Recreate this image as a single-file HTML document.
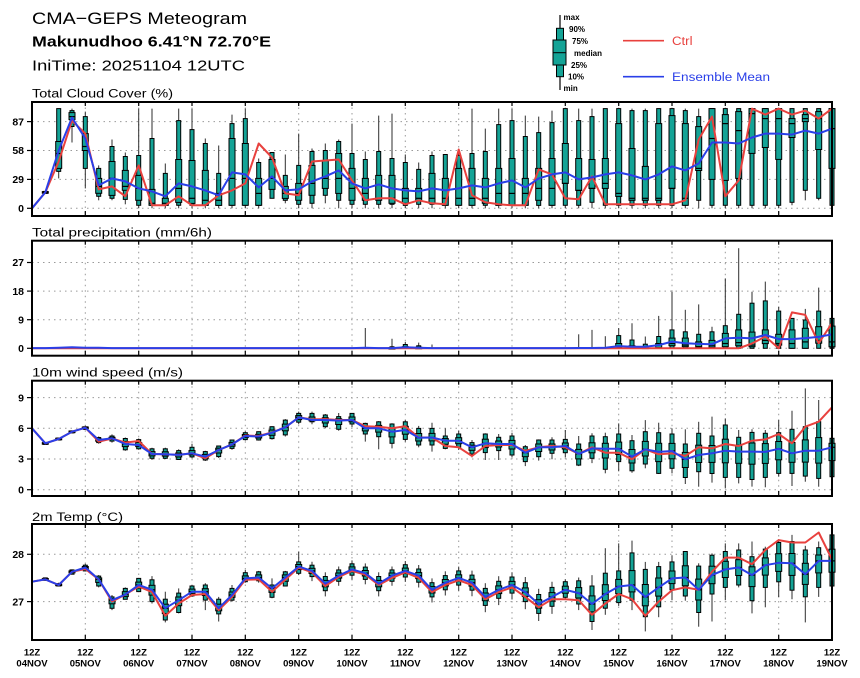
<!DOCTYPE html>
<html><head><meta charset="utf-8">
<style>
html,body{margin:0;padding:0;background:#fff;}
svg{display:block;font-family:"Liberation Sans",Arial,sans-serif;}
</style></head><body>
<svg id="s" width="860" height="678" viewBox="0 0 860 678" xmlns="http://www.w3.org/2000/svg">
<rect width="860" height="678" fill="#fff"/>
<!-- Titles -->
<text x="32" y="24" font-size="17" textLength="215" lengthAdjust="spacingAndGlyphs">CMA−GEPS Meteogram</text>
<text x="32" y="46.7" font-size="15" font-weight="bold" textLength="239" lengthAdjust="spacingAndGlyphs">Makunudhoo 6.41°N 72.70°E</text>
<text x="32" y="70.7" font-size="15" textLength="213" lengthAdjust="spacingAndGlyphs">IniTime: 20251104 12UTC</text>

<!-- Legend box icon -->
<line x1="560" y1="15" x2="560" y2="90" stroke="#000" stroke-width="1.2"/>
<rect x="556.5" y="28.3" width="7" height="48.4" fill="#14a396" stroke="#000" stroke-width="1"/>
<rect x="553" y="40" width="13" height="25" fill="#14a396" stroke="#000" stroke-width="1"/>
<line x1="553" y1="52.7" x2="566" y2="52.7" stroke="#000" stroke-width="1"/>
<g font-size="8" font-weight="bold">
<text x="563.5" y="20">max</text>
<text x="569" y="32">90%</text>
<text x="572" y="44">75%</text>
<text x="574" y="56">median</text>
<text x="571" y="68">25%</text>
<text x="568" y="79.5">10%</text>
<text x="563.5" y="91">min</text>
</g>
<line x1="623" y1="40.7" x2="664" y2="40.7" stroke="#e8413e" stroke-width="1.6"/>
<text x="672" y="45" font-size="11.5" fill="#e8413e" textLength="20.5" lengthAdjust="spacingAndGlyphs">Ctrl</text>
<line x1="623" y1="76.7" x2="664" y2="76.7" stroke="#2a3fe8" stroke-width="1.6"/>
<text x="672" y="81" font-size="11.5" fill="#2a3fe8" textLength="98" lengthAdjust="spacingAndGlyphs">Ensemble Mean</text>

<!-- Panel titles -->
<text x="32" y="97.5" font-size="11.5" textLength="141" lengthAdjust="spacingAndGlyphs">Total Cloud Cover (%)</text>
<text x="32" y="236.5" font-size="11.5" textLength="180" lengthAdjust="spacingAndGlyphs">Total precipitation (mm/6h)</text>
<text x="32" y="376.6" font-size="11.5" textLength="151" lengthAdjust="spacingAndGlyphs">10m wind speed (m/s)</text>
<text x="32" y="520.8" font-size="11.5" textLength="91" lengthAdjust="spacingAndGlyphs">2m Temp (°C)</text>

<!-- Y tick labels -->
<g font-size="10.5" font-weight="bold" text-anchor="end">
<text x="24" y="125.3">87</text>
<text x="24" y="154.2">58</text>
<text x="24" y="183.1">29</text>
<text x="24" y="212">0</text>
<text x="24" y="266.2">27</text>
<text x="24" y="294.8">18</text>
<text x="24" y="323.4">9</text>
<text x="24" y="352">0</text>
<text x="24" y="401.3">9</text>
<text x="24" y="432">6</text>
<text x="24" y="462.7">3</text>
<text x="24" y="493.4">0</text>
<text x="24" y="558">28</text>
<text x="24" y="605.3">27</text>
</g>

<!-- X labels -->
<g font-size="9.5" font-weight="bold" text-anchor="middle">
<text x="32" y="655.5">12Z</text><text x="32" y="666.5">04NOV</text>
<text x="85.3" y="655.5">12Z</text><text x="85.3" y="666.5">05NOV</text>
<text x="138.7" y="655.5">12Z</text><text x="138.7" y="666.5">06NOV</text>
<text x="192" y="655.5">12Z</text><text x="192" y="666.5">07NOV</text>
<text x="245.3" y="655.5">12Z</text><text x="245.3" y="666.5">08NOV</text>
<text x="298.7" y="655.5">12Z</text><text x="298.7" y="666.5">09NOV</text>
<text x="352" y="655.5">12Z</text><text x="352" y="666.5">10NOV</text>
<text x="405.3" y="655.5">12Z</text><text x="405.3" y="666.5">11NOV</text>
<text x="458.7" y="655.5">12Z</text><text x="458.7" y="666.5">12NOV</text>
<text x="512" y="655.5">12Z</text><text x="512" y="666.5">13NOV</text>
<text x="565.3" y="655.5">12Z</text><text x="565.3" y="666.5">14NOV</text>
<text x="618.7" y="655.5">12Z</text><text x="618.7" y="666.5">15NOV</text>
<text x="672" y="655.5">12Z</text><text x="672" y="666.5">16NOV</text>
<text x="725.3" y="655.5">12Z</text><text x="725.3" y="666.5">17NOV</text>
<text x="778.7" y="655.5">12Z</text><text x="778.7" y="666.5">18NOV</text>
<text x="832" y="655.5">12Z</text><text x="832" y="666.5">19NOV</text>
</g>

<g id="grid"></g>
<g id="data"></g>
<g id="frames" fill="none" stroke="#000" stroke-width="2">
<rect x="32" y="102" width="800" height="114"/>
<rect x="32" y="240.7" width="800" height="115"/>
<rect x="32" y="380.7" width="800" height="115.3"/>
<rect x="32" y="524" width="800" height="116"/>
</g>
</svg>
<script>
(function(){
const T=40/3, X=i=>32+i*T;
const yC=v=>208.3-v*0.9966, yP=v=>348.3-v*3.178, yW=v=>489.7-v*10.233, yT=v=>554.3+(28-v)*47.3;
const f=n=>n.toFixed(1);
const TEAL="#14a396", EDGE="#000";
let g='';
const panels=[[102,216,[208.3,179.4,150.5,121.6]],[240.7,355.7,[348.3,319.7,291.1,262.5]],[380.7,496,[489.7,459,428.3,397.6]],[524,640,[601.6,554.3]]];
panels.forEach(p=>{
  p[2].forEach(y=>{g+=`<line x1="32" x2="832" y1="${y}" y2="${y}" stroke="#9a9a9a" stroke-width="1" stroke-dasharray="1.5,4"/>`;
    g+=`<line x1="27" x2="32" y1="${y}" y2="${y}" stroke="#000" stroke-width="1.2"/>`;});
  for(let k=1;k<15;k++){const x=f(32+k*160/3);
    g+=`<line x1="${x}" x2="${x}" y1="${p[0]}" y2="${p[1]}" stroke="#9a9a9a" stroke-width="1" stroke-dasharray="1.5,4"/>`;
    g+=`<line x1="${x}" x2="${x}" y1="${p[1]-5}" y2="${p[1]}" stroke="#000" stroke-width="1.2"/>`;
    g+=`<line x1="${x}" x2="${x}" y1="${p[0]}" y2="${p[0]+4}" stroke="#000" stroke-width="1.2"/>`;}
});
document.getElementById('grid').innerHTML=g;

let o='';
function path(a,yf,c){let d='';a.forEach((v,i)=>{d+=(i?'L':'M')+f(X(i))+' '+f(yf(v));});
  o+=`<path d="${d}" fill="none" stroke="${c}" stroke-width="2" stroke-linejoin="round"/>`;}
function box(i,b,yf){
  if(!b)return;
  const x=X(i);const [mn,p10,p25,md,p75,p90,mx]=b;
  if(mx>mn) o+=`<line x1="${f(x)}" x2="${f(x)}" y1="${f(yf(mx))}" y2="${f(yf(mn))}" stroke="#2e2e2e" stroke-width="1"/>`;
  if(p90>p10){
    let y1=yf(p90),y2=yf(p10); if(y2-y1<2){const c=(y1+y2)/2;y1=c-1;y2=c+1;}
    o+=`<rect x="${f(x-2)}" y="${f(y1)}" width="4" height="${f(y2-y1)}" fill="${TEAL}" stroke="${EDGE}" stroke-width="1"/>`;
    y1=yf(p75);y2=yf(p25); if(y2-y1<1.6){const c=(y1+y2)/2;y1=c-0.8;y2=c+0.8;}
    o+=`<rect x="${f(x-3)}" y="${f(y1)}" width="6" height="${f(y2-y1)}" fill="${TEAL}" stroke="${EDGE}" stroke-width="1"/>`;
    o+=`<line x1="${f(x-3)}" x2="${f(x+3)}" y1="${f(yf(md))}" y2="${f(yf(md))}" stroke="#000" stroke-width="1.2"/>`;
  }
}
function mk4(b,m){const [mn,p10,p90,mx]=b;m=Math.max(p10,Math.min(p90,m));
  return [mn,p10,m-(m-p10)*0.45,m,m+(p90-m)*0.45,p90,mx];}

const CB=[null,
[15,15,15.5,16,16.5,17,17],[30,37,40,55,67,100,100],[66,82,89,92,96,98,100],[20,40,58,62,75,92,97],
[8,12,15,22,30,40,43],[8,10,13,30,47,62,69],[4,9,18,22,38,52,56],[0,3,8,20,33,53,100],
[0,3,3,5,19,70,100],[0,3,3,5,10,35,45],[0,3,6,20,49,88,100],[0,3,5,10,48,79,100],
[0,3,3,8,38,65,70],[0,3,3,8,15,35,63],[0,3,3,30,70,85,94],[0,3,3,30,65,90,100],
[0,3,3,15,30,46,50],[10,10,19,30,49,56,56],[5,8,10,15,22,33,54],[0,4,8,15,25,43,75],
[0,5,13,25,43,57,60],[5,13,20,30,48,58,65],[0,8,15,30,55,67,69],[0,4,8,20,40,55,85],
[0,4,8,15,30,49,57],[0,4,8,10,33,57,93],[0,4,5,10,33,50,95],[0,3,5,10,20,46,54],
[0,4,8,10,20,39,46],[0,4,5,10,35,53,57],[0,3,3,10,30,54,54],[0,3,3,10,40,53,55],
[0,3,3,10,40,55,100],[0,3,5,10,30,57,80],[0,3,3,15,40,84,100],[0,3,3,15,50,88,100],
[0,3,3,15,30,72,93],[0,3,8,20,40,76,92],[0,3,3,20,50,86,98],[0,3,25,25,65,100,100],
[0,3,18,18,50,88,100],[0,6,20,20,49,92,100],[0,3,20,25,50,100,100],[0,3,12,15,85,100,100],
[0,3,8,10,60,98,100],[0,3,8,10,42,98,100],[0,3,8,10,85,100,100],[0,3,20,20,93,100,100],
[0,3,3,10,85,98,100],[0,8,38,40,82,92,100],[0,3,29,70,100,100,100],[0,3,28,85,94,100,100],
[0,3,30,78,97,100,100],[0,3,55,95,100,100,100],[0,3,61,90,100,100,100],[0,3,49,90,100,100,100],
[3,6,71,85,90,100,100],[8,18,87,90,94,100,100],[8,10,59,90,97,100,100],[0,3,40,80,100,100,100]];
const CR=[0,16,47,88,75,19,22,12,43,3,3,12,3,3,13,18,25,65,51,15,13,47,48,49,28,8,10,10,4,8,5,4,59,13,6,4,3,3,39,34,10,9,32,4,4,4,4,4,4,8,69,92,12,28,100,94,100,94,98,90,100];
const CM=[0,16,58,91,70,23,30,27,20,17,12,25,22,18,13,36,34,21,32,18,19,27,32,38,25,20,24,20,18,17,20,18,20,23,21,25,28,21,30,34,36,29,31,34,36,33,29,34,42,38,45,66,66,65,71,75,75,74,78,75,80];
for(let i=1;i<=60;i++)box(i,CB[i],yC);
path(CR,yC,"#e8413e");path(CM,yC,"#2a3fe8");

const PB={25:[0,0,0,0,0,0,6.4],27:[0,0,0,0,0,0.3,3],28:[0,0,0,0.2,0.5,1.2,2],29:[0,0,0,0,0.2,0.8,1.8],30:[0,0,0,0,0,0,1.2],
41:[0,0,0,0,0,0,4.4],42:[0,0,0,0,0,0,5.8],43:[0,0,0,0,0,0,3.8],44:[0,0,0,0.3,1.5,4.0,6.4],
45:[0,0,0,0,0.8,2.6,7.9],46:[0,0,0,0,0.3,1.3,3.7],47:[0,0,0,0.2,1.5,3.7,10.2],48:[0,0,0.8,1.5,3.2,5.8,17.8],
49:[0,0,0.5,1.0,3.2,5.2,12.1],50:[0,0,0.3,0.5,2.0,4.4,13.8],51:[0,0,0.3,0.8,2.5,5.2,6.8],52:[0,0,0.5,1.5,4.7,7.1,22.0],
53:[0,0,0.8,1.8,5.8,10.7,31.5],54:[0,0,0.5,1.0,5.1,14.2,17.8],55:[0,0,1.5,2.5,5.8,14.9,21.0],56:[0,0,1.0,1.5,4.4,11.7,13.1],
57:[0,0,0,1.5,5.8,9.4,9.5],58:[0,0,0,2.0,6.3,8.9,12.4],59:[0,0,1.6,2.5,6.8,11.7,19.1],60:[0,0,0.5,2.0,7.0,9.4,9.6]};
for(const k in PB)box(+k,PB[k],yP);
const PR=new Array(61).fill(0);
Object.assign(PR,{54:1.5,55:3.7,56:0,57:11.3,58:10.5,59:1.6,60:7.9});
const PM=new Array(61).fill(0.05);
Object.assign(PM,{2:0.2,3:0.3,4:0.2,5:0.15,25:0.2,28:0.3,29:0.2,41:0.1,42:0.1,43:0.2,44:0.7,45:0.5,46:0.5,47:1.0,48:2.1,49:1.6,50:1.4,51:1.3,52:3.1,53:3.3,54:3.1,55:4.2,56:2.9,57:2.9,58:3.2,59:3.6,60:4.4});
path(PR,yP,"#e8413e");path(PM,yP,"#2a3fe8");

const WM=[6.0,4.53,4.95,5.67,6.06,4.86,5.02,4.47,4.37,3.49,3.46,3.4,3.56,3.23,3.88,4.43,5.25,5.2,5.57,6.1,7.07,6.81,6.81,6.75,6.81,6.0,6.0,5.67,5.83,5.08,5.1,4.79,4.79,4.14,4.53,4.47,4.47,3.62,4.14,4.14,4.27,3.5,4.04,4.0,4.0,3.23,3.95,3.69,3.78,2.97,3.39,3.56,3.81,3.72,3.72,3.69,4.0,3.56,3.81,3.81,4.14];
const WR=[6.0,4.53,4.95,5.67,6.06,4.7,5.0,4.6,4.76,3.49,3.46,3.4,3.56,3.07,3.88,4.43,5.3,5.25,5.6,6.1,7.07,6.87,6.9,6.81,6.81,6.2,6.16,6.0,6.2,5.1,5.1,4.27,4.14,3.29,4.27,4.37,4.37,3.8,4.14,4.27,4.14,3.5,4.14,3.62,3.62,2.97,3.95,3.46,3.55,3.3,4.14,4.04,4.47,4.27,4.79,4.92,5.44,4.53,6.16,6.65,8.05];
const WB=[null,
[4.4,4.45,4.6,4.65],[4.8,4.85,5.05,5.1],[5.5,5.55,5.75,5.8],[5.85,5.9,6.15,6.25],[4.5,4.6,5.1,5.2],
[4.6,4.75,5.25,5.4],[3.8,3.9,5.0,5.1],[3.9,4.0,4.9,5.0],[2.9,3.07,4.0,4.1],[3.0,3.07,4.0,4.1],
[2.9,2.95,3.82,3.95],[3.1,3.2,4.14,4.5],[2.8,2.9,3.72,3.8],[3.1,3.23,4.27,4.3],[3.9,4.04,4.86,4.9],
[4.8,4.9,5.57,5.7],[4.8,4.86,5.67,5.7],[4.9,5.0,6.16,6.2],[5.2,5.35,6.8,6.9],[6.4,6.6,7.46,7.63],
[6.4,6.64,7.46,7.63],[6.0,6.16,7.3,7.4],[5.77,5.9,7.14,7.5],[6.1,6.42,7.46,7.5],[4.7,5.44,6.48,6.55],
[3.95,5.18,6.64,6.7],[4.04,4.53,6.42,6.5],[4.7,4.92,6.64,6.8],[4.14,4.37,5.99,6.23],[3.72,4.37,5.99,6.55],
[3.95,4.04,5.25,5.99],[3.88,4.14,5.44,5.77],[3.16,3.49,4.6,4.86],[2.9,3.62,5.44,5.51],[2.9,3.82,5.12,5.44],
[3.16,3.39,5.25,5.57],[2.31,2.74,4.2,4.37],[2.84,3.23,4.86,4.92],[2.97,3.56,4.86,5.12],[3.16,3.62,4.92,5.83],
[2.31,2.41,4.47,5.25],[2.6,3.07,5.25,5.51],[1.6,1.99,5.18,5.57],[1.8,2.74,5.44,6.48],[1.66,1.85,4.79,5.35],
[2.09,2.51,5.67,6.8],[1.53,1.59,5.57,6.55],[1.59,2.09,5.44,5.99],[0.56,1.2,4.47,5.9],[0.29,1.76,5.51,6.64],
[0.69,1.59,5.25,7.14],[0.13,1.2,6.32,6.97],[0.62,1.2,5.12,5.83],[0.3,1.0,5.6,5.9],[0.23,1.2,5.51,5.83],
[1.27,1.59,5.57,6.8],[0.36,1.59,5.9,7.72],[0.78,1.33,6.16,9.9],[0.29,1.11,6.65,8.77],[0.5,1.27,5.02,5.5]];
for(let i=1;i<=60;i++)box(i,mk4(WB[i],WM[i]),yW);
path(WR,yW,"#e8413e");path(WM,yW,"#2a3fe8");

const TM=[27.42,27.47,27.35,27.63,27.72,27.47,27.03,27.15,27.35,27.25,26.86,27.03,27.21,27.21,26.86,27.14,27.49,27.51,27.28,27.51,27.74,27.65,27.38,27.55,27.68,27.6,27.38,27.55,27.65,27.55,27.25,27.4,27.5,27.4,27.1,27.25,27.35,27.2,26.95,27.1,27.25,27.18,26.95,27.16,27.32,27.35,27.10,27.30,27.49,27.51,27.25,27.56,27.68,27.72,27.56,27.77,27.82,27.81,27.58,27.86,27.86];
const TR=[27.42,27.47,27.35,27.63,27.69,27.47,27.0,27.15,27.32,27.2,26.70,26.96,27.14,27.16,26.82,27.1,27.46,27.47,27.21,27.46,27.72,27.62,27.33,27.52,27.65,27.57,27.35,27.5,27.62,27.5,27.2,27.35,27.45,27.35,27.05,27.2,27.3,27.1,26.88,27.05,27.05,27.03,26.72,26.96,27.16,27.05,26.70,27.0,27.24,27.30,27.25,27.63,27.93,27.93,27.79,28.09,28.30,28.25,28.25,28.46,27.89];
const TB=[null,
[27.44,27.45,27.5,27.51],[27.32,27.33,27.38,27.4],[27.58,27.58,27.67,27.68],[27.64,27.65,27.77,27.8],[27.3,27.33,27.54,27.56],
[26.82,26.86,27.1,27.14],[27.05,27.05,27.28,27.3],[27.2,27.21,27.49,27.5],[26.96,27.0,27.46,27.54],[26.56,26.61,27.05,27.21],
[26.75,26.77,27.18,27.28],[27.1,27.12,27.33,27.35],[26.82,27.03,27.35,27.39],[26.58,26.74,27.05,27.1],[27.0,27.03,27.28,27.35],
[27.4,27.42,27.61,27.67],[27.4,27.44,27.63,27.65],[27.07,27.09,27.35,27.49],[27.33,27.33,27.63,27.65],[27.56,27.6,27.84,28.06]];
const S=[0.12,0.15,0.12,0.12,0.13,0.15,0.12,0.13,0.14,0.15,0.15,0.15,0.16,0.18,0.18,0.17,0.2,0.2,0.2];
for(let i=21;i<=39;i++){const m=TM[i],s=S[i-21];TB[i]=[m-1.8*s,m-s,m+s,m+1.6*s];}
TB.push(
[27.05,27.09,27.42,27.47],[26.82,26.95,27.44,27.51],[26.40,26.58,27.33,27.56],[26.72,26.86,27.60,28.13],[26.91,26.98,27.65,28.23],
[26.82,27.03,28.03,28.29],[26.37,26.68,27.68,27.84],[26.67,26.89,27.74,27.84],[27.03,27.25,27.84,27.98],[27.02,27.12,28.06,28.07],
[26.47,26.77,27.75,27.81],[26.58,27.16,27.98,28.02],[27.03,27.30,28.06,28.23],[27.30,27.35,28.09,28.23],[26.75,27.02,27.95,28.27],
[26.88,27.30,28.11,28.16],[27.09,27.42,28.25,28.32],[27.05,27.24,28.27,28.41],[26.56,27.10,28.09,28.18],[27.10,27.30,28.14,28.27],
[27.2,27.33,28.41,28.45]);
for(let i=1;i<=60;i++)box(i,mk4(TB[i],TM[i]),yT);
path(TR,yT,"#e8413e");path(TM,yT,"#2a3fe8");

document.getElementById('data').innerHTML=o;
})();
</script>
</body></html>
